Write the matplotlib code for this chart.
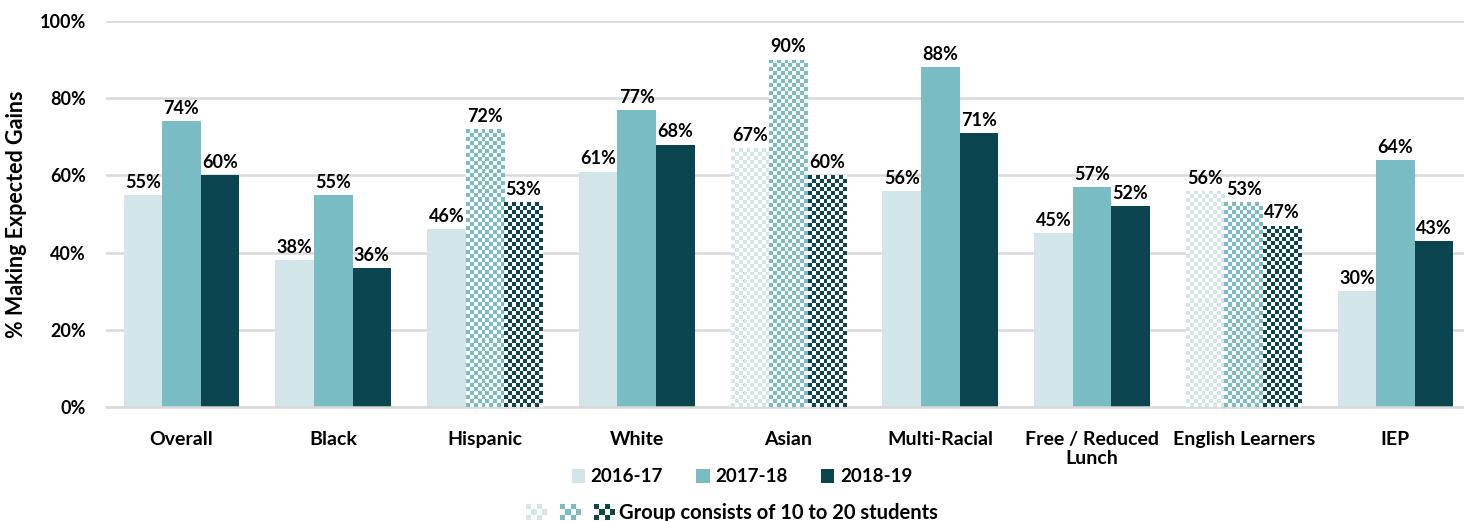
import numpy as np
import matplotlib
matplotlib.use('Agg')
import matplotlib.pyplot as plt
from matplotlib.patches import Rectangle, Patch
from matplotlib.legend_handler import HandlerBase
from matplotlib.colors import to_rgb

plt.rcParams['font.family'] = ['Lato', 'DejaVu Sans']
plt.rcParams['font.weight'] = 'bold'

categories = ['Overall', 'Black', 'Hispanic', 'White', 'Asian', 'Multi-Racial',
              'Free / Reduced\nLunch', 'English Learners', 'IEP']
years = ['2016-17', '2017-18', '2018-19']
pct_1617 = [55, 38, 46, 61, 67, 56, 45, 56, 30]
pct_1718 = [74, 55, 72, 77, 90, 88, 57, 53, 64]
pct_1819 = [60, 36, 53, 68, 60, 71, 52, 47, 43]
# True = group consists of 10 to 20 students (checkered bar)
small_1617 = [False, False, False, False, True, False, False, True, False]
small_1718 = [False, False, True, False, True, False, False, True, False]
small_1819 = [False, False, True, False, True, False, False, True, False]

colors = ['#D2E6E9', '#79BCC3', '#0B4650']
series = [pct_1617, pct_1718, pct_1819]
smalls = [small_1617, small_1718, small_1819]

W, H = 1464, 521
fig = plt.figure(figsize=(W / 100, H / 100), dpi=100)
ax = fig.add_axes([105.6 / W, 1 - 407 / H, 1 - 105.6 / W, 386 / H])

x = np.arange(len(categories))
bw = 0.254
cell_px = 4.0


def checker(color, nx, ny):
    r, g, b = to_rgb(color)
    img = np.ones((ny, nx, 3))
    mask = (np.add.outer(np.arange(ny), np.arange(nx)) % 2) == 0
    img[mask] = (r, g, b)
    return img


ax.set_xlim(-0.5, (W - 181.5) / 151.75)
ax.set_ylim(0, 100)
fig.canvas.draw()
px_per_x = ax.bbox.width / (ax.get_xlim()[1] - ax.get_xlim()[0])
px_per_y = ax.bbox.height / 100

for i, (vals, sm, col) in enumerate(zip(series, smalls, colors)):
    pos = x + (i - 1) * bw
    face = ['white' if s else col for s in sm]
    bars = ax.bar(pos, vals, width=bw, color=face, zorder=2)
    for bar, s, v in zip(bars, sm, vals):
        if s:
            x0, w, h = bar.get_x(), bar.get_width(), bar.get_height()
            nx = max(1, int(round(w * px_per_x / cell_px)))
            ny = max(1, int(round(h * px_per_y / cell_px)))
            im = ax.imshow(checker(col, nx, ny), extent=(x0, x0 + w, 0, h),
                           interpolation='nearest', aspect='auto', zorder=3)
            im.set_clip_path(bar)
        ax.annotate(f'{v}%', (bar.get_x() + bar.get_width() / 2, v),
                    xytext=(0, 3), textcoords='offset points',
                    ha='center', va='bottom', fontsize=13, fontweight='bold')

ax.set_xlim(-0.5, (W - 181.5) / 151.75)
ax.set_ylim(0, 100)
ax.set_yticks(np.arange(0, 101, 20))
ax.set_yticklabels([f'{t}%' for t in range(0, 101, 20)])
ax.set_xticks(x)
ax.set_xticklabels(categories)
ax.tick_params(axis='y', length=0, pad=14, labelsize=13)
ax.tick_params(axis='x', length=0, pad=17, labelsize=14)
ax.grid(axis='y', color='#D9D9D9', linewidth=1.8, zorder=0)
ax.set_axisbelow(True)
for s in ['top', 'right', 'left']:
    ax.spines[s].set_visible(False)
ax.spines['bottom'].set_color('#D9D9D9')
ax.spines['bottom'].set_linewidth(1.8)
ax.set_ylabel('% Making Expected Gains', fontsize=15.5, fontweight='bold')
ax.yaxis.set_label_coords(-79 / ax.bbox.width, 0.5)

handles = [Patch(facecolor=c, edgecolor='none') for c in colors]
fig.legend(handles, years, loc='center', bbox_to_anchor=(742 / W, 1 - 477 / H),
           ncol=3, frameon=False, fontsize=13.5, handlelength=0.7, handleheight=0.7,
           handletextpad=0.3, columnspacing=1.8, borderpad=0)


class CheckerHandler(HandlerBase):
    def create_artists(self, legend, orig_handle, xdescent, ydescent,
                       width, height, fontsize, trans):
        arts = []
        gap = width * 0.15
        sq = (width - 2 * gap) / 3
        nx, ny = 4, 3
        cw, ch = sq / nx, height / ny
        for k, col in enumerate(colors):
            left = -xdescent + k * (sq + gap)
            for r in range(ny):
                for c in range(nx):
                    fc = col if (r + c) % 2 == 0 else 'white'
                    arts.append(Rectangle((left + c * cw, -ydescent + r * ch), cw, ch,
                                          facecolor=fc, edgecolor='none', transform=trans))
        return arts


fig.legend([object()], ['Group consists of 10 to 20 students'],
           handler_map={object: CheckerHandler()}, loc='center',
           bbox_to_anchor=(732 / W, 1 - 513 / H), frameon=False, fontsize=14.5,
           handlelength=4.4, handleheight=0.85, handletextpad=0.2, borderpad=0)

fig.savefig('out.png', dpi=100)
